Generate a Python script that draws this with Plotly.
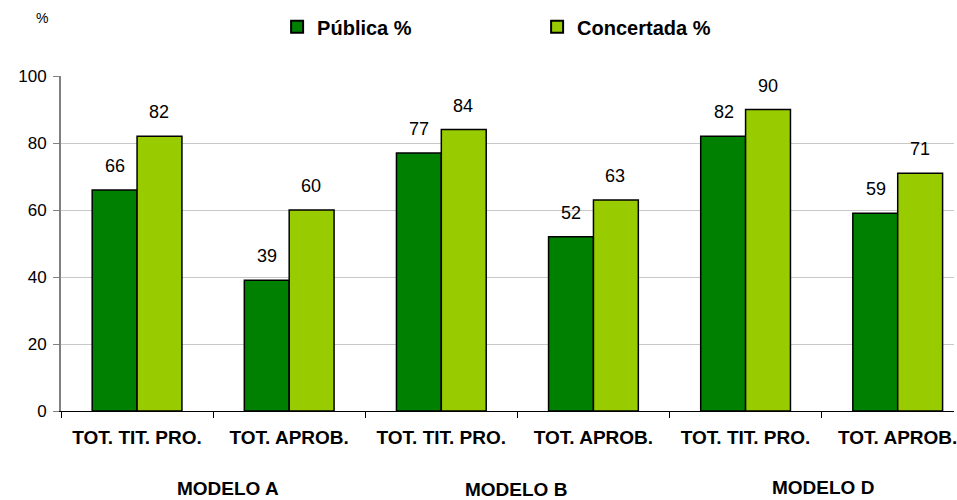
import plotly.graph_objects as go

categories = ["TOT. TIT. PRO.", "TOT. APROB.", "TOT. TIT. PRO.", "TOT. APROB.", "TOT. TIT. PRO.", "TOT. APROB."]
publica = [66, 39, 77, 52, 82, 59]
concertada = [82, 60, 84, 63, 90, 71]
modelos = ["MODELO A", "MODELO B", "MODELO D"]
modelo_pos = [0.6, 2.49, 4.507]
modelo_y = [-0.232, -0.234, -0.229]
y_ticks = [0, 20, 40, 60, 80, 100]

xs = list(range(len(categories)))
FONT = "Liberation Sans, Arial, sans-serif"

fig = go.Figure()
fig.add_trace(go.Bar(name="Pública %", x=xs, y=publica,
                     marker=dict(color="#008000", line=dict(color="black", width=1.5))))
fig.add_trace(go.Bar(name="Concertada %", x=xs, y=concertada,
                     marker=dict(color="#99CC00", line=dict(color="black", width=1.5))))

annotations = []
for i, (p, c) in enumerate(zip(publica, concertada)):
    annotations.append(dict(x=i, y=p, xref="x", yref="y", text=str(p), showarrow=False,
                            xshift=-22, yshift=24, font=dict(size=18, color="black", family=FONT)))
    annotations.append(dict(x=i, y=c, xref="x", yref="y", text=str(c), showarrow=False,
                            xshift=22, yshift=24, font=dict(size=18, color="black", family=FONT)))
for m, xp, yp in zip(modelos, modelo_pos, modelo_y):
    annotations.append(dict(x=xp, y=yp, xref="x", yref="paper", text="<b>%s</b>" % m, showarrow=False,
                            xanchor="center", yanchor="middle",
                            font=dict(size=19, color="black", family=FONT)))
annotations.append(dict(x=-0.021, y=1.173, xref="paper", yref="paper", text="%", showarrow=False,
                        xanchor="center", yanchor="middle", font=dict(size=14, color="black", family=FONT)))

fig.update_layout(
    width=957, height=500,
    margin=dict(l=61, r=0, t=76, b=89),
    paper_bgcolor="white", plot_bgcolor="white",
    barmode="group", bargap=0.41, bargroupgap=0,
    font=dict(family=FONT, color="black"),
    showlegend=True,
    legend=dict(orientation="h", x=0.242, y=1.147, xanchor="left", yanchor="middle",
                font=dict(size=20, family=FONT, color="black", weight="bold"),
                entrywidth=215, itemsizing="constant"),
    annotations=annotations,
    xaxis=dict(range=[-0.5, 5.37], tickmode="array", tickvals=xs, ticktext=categories,
               showgrid=False, zeroline=False, showline=True, linecolor="black", linewidth=1,
               ticks="", ticklen=0, ticklabeloverflow="allow", ticklabelstandoff=9,
               minor=dict(tickmode="array", tickvals=[i - 0.5 for i in xs] + [5.5],
                          ticks="outside", ticklen=6, tickcolor="black", showgrid=False),
               tickfont=dict(size=19, family=FONT, color="black", weight="bold")),
    yaxis=dict(range=[0, 100], tickmode="array", tickvals=y_ticks,
               showgrid=True, gridcolor="#c8c8c8", gridwidth=1, zeroline=False,
               showline=True, linecolor="#808080", linewidth=2,
               ticks="outside", ticklen=6, tickcolor="#808080", ticklabelstandoff=3,
               tickfont=dict(size=17, family=FONT, color="black")),
)

fig.write_html("out.html", config={"displayModeBar": False},
               post_script="document.body.style.margin='0';")
